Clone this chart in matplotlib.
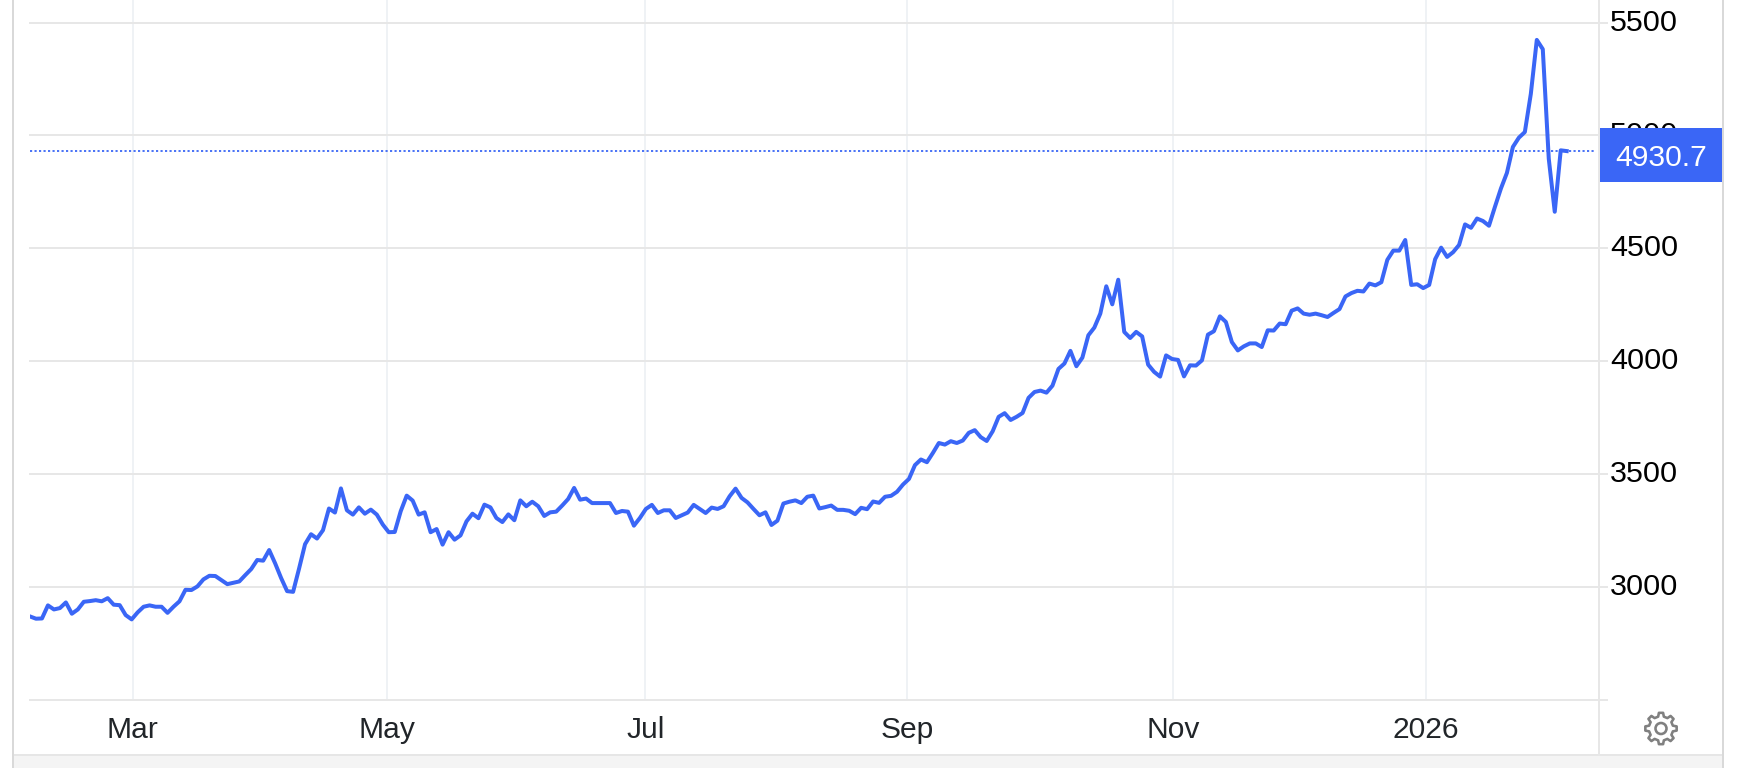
import numpy as np
import matplotlib
matplotlib.use("Agg")
import matplotlib.pyplot as plt
from matplotlib.patches import Rectangle, Polygon, Circle
from matplotlib.transforms import ScaledTranslation

# closing values, one per trading day
prices = [
    2870, 2860, 2861, 2919, 2901, 2907, 2932, 2882, 2901, 2935,
    2938, 2942, 2937, 2951, 2922, 2920, 2876, 2857, 2888, 2913,
    2919, 2913, 2913, 2886, 2913, 2937, 2988, 2987, 3003, 3034,
    3050, 3049, 3031, 3013, 3019, 3025, 3053, 3080, 3120, 3117,
    3164, 3105, 3040, 2982, 2979, 3082, 3190, 3234, 3215, 3252,
    3348, 3330, 3437, 3340, 3321, 3353, 3325, 3343, 3321, 3277,
    3243, 3244, 3336, 3405, 3383, 3321, 3331, 3243, 3257, 3188,
    3243, 3210, 3229, 3291, 3325, 3305, 3365, 3353, 3306, 3288,
    3322, 3296, 3384, 3358, 3378, 3358, 3315, 3331, 3334, 3361,
    3390, 3439, 3387, 3392, 3372, 3372, 3372, 3372, 3328, 3337,
    3334, 3272, 3306, 3346, 3364, 3328, 3340, 3340, 3306, 3318,
    3330, 3364, 3346, 3328, 3352, 3346, 3358, 3402, 3436, 3395,
    3375, 3346, 3318, 3331, 3275, 3294, 3370, 3378, 3384, 3372,
    3400, 3405, 3348, 3354, 3361, 3342, 3342, 3338, 3323, 3351,
    3345, 3379, 3373, 3400, 3404, 3422, 3454, 3479, 3540, 3565,
    3553, 3594, 3638, 3631, 3646, 3638, 3649, 3683, 3695, 3664,
    3647, 3690, 3754, 3770, 3740, 3754, 3771, 3838, 3864, 3870,
    3861, 3892, 3966, 3990, 4046, 3978, 4016, 4115, 4149, 4211,
    4332, 4252, 4361, 4130, 4103, 4130, 4110, 3985, 3953, 3932,
    4026, 4010, 4006, 3933, 3982, 3981, 4004, 4118, 4133, 4199,
    4174, 4085, 4048, 4066, 4079, 4079, 4063, 4137, 4136, 4167,
    4164, 4224, 4234, 4211, 4206, 4211, 4204, 4196, 4214, 4231,
    4287, 4302, 4312, 4309, 4344, 4336, 4350, 4449, 4490, 4490,
    4537, 4338, 4341, 4324, 4338, 4452, 4503, 4462, 4483, 4515,
    4606, 4591, 4632, 4621, 4600, 4684, 4765, 4834, 4949, 4990,
    5015, 5184, 5423, 5382, 4897, 4662, 4934, 4930.7,
]
last_price = 4930.7

month_labels = ["Mar", "May", "Jul", "Sep", "Nov", "2026"]
month_ticks = [17.2, 59.7, 102.9, 146.7, 191.2, 233.5]
price_ticks = [2500, 3000, 3500, 4000, 4500, 5000, 5500]
price_labels = ["", "3000", "3500", "4000", "4500", "5000", "5500"]

W, H = 1740, 768
BLUE = "#3a66f6"
GRID = "#e7e7e7"
px = 72 / 100  # one pixel in points

plt.rcParams["font.family"] = ["Liberation Sans", "DejaVu Sans"]

fig = plt.figure(figsize=(W / 100, H / 100), dpi=100, facecolor="white")
ax = fig.add_axes([30 / W, (H - 700) / H, (1596 - 30) / W, 700 / H])

ax.plot(range(len(prices)), prices, color=BLUE, lw=4 * px, solid_joinstyle="round", zorder=3)
ax.axhline(last_price, color=BLUE, lw=1.8 * px, linestyle=(0, (1.2, 1.3)), zorder=2, clip_on=False)

ax.set_xlim(0, 261.9)
ax.set_ylim(2500, 5599.7)
for s in ax.spines.values():
    s.set_visible(False)

ax.set_xticks(month_ticks, month_labels)
ax.set_yticks(price_ticks, price_labels)
ax.yaxis.tick_right()
ax.grid(axis="y", color=GRID, lw=2 * px, zorder=0)
ax.grid(axis="x", color="#eff2f5", lw=2 * px, zorder=0)
ax.set_axisbelow(True)
for gl in ax.get_ygridlines():
    gl.set_clip_on(False)
ax.tick_params(axis="x", length=0, pad=16 * px, labelsize=30 * px, labelcolor="#212529")
ax.tick_params(axis="y", length=12 * px, width=2 * px, color=GRID, pad=2 * px, labelsize=30.5 * px, labelcolor="black")
# price labels sit a little above their gridlines
up = ScaledTranslation(0, 3 / 100, fig.dpi_scale_trans)
for lab in ax.get_yticklabels():
    lab.set_transform(lab.get_transform() + up)

# page furniture round the chart, in pixel coordinates
ov = fig.add_axes([0, 0, 1, 1], zorder=10, facecolor="none")
ov.set_xlim(0, W)
ov.set_ylim(H, 0)
ov.axis("off")

ov.add_patch(Rectangle((14, 755), 1708, 13, color="#f4f4f4", lw=0))
ov.plot([14, 1722], [755, 755], color="#e6e6e6", lw=2 * px)
ov.plot([13, 13], [0, H], color="#d9d9d9", lw=2 * px)
ov.plot([1723, 1723], [0, H], color="#d9d9d9", lw=2 * px)
ov.plot([1599, 1599], [0, 755], color=GRID, lw=2 * px)

ov.add_patch(Rectangle((1600, 128), 122, 54, color=BLUE, lw=0))
ov.text(1661, 155, f"{last_price:.1f}", color="white", fontsize=30 * px, ha="center", va="center_baseline")

# settings gear
cx, cy = 1661, 728.5
teeth = 8
angles, radii = [], []
for k in range(teeth):
    a = 2 * np.pi * k / teeth
    step = 2 * np.pi / teeth
    angles += [a - 0.30 * step, a - 0.17 * step, a + 0.17 * step, a + 0.30 * step]
    radii += [12.2, 15.8, 15.8, 12.2]
angles = np.array(angles)
radii = np.array(radii)
gear = np.column_stack([cx + radii * np.cos(angles), cy + radii * np.sin(angles)])
ov.add_patch(Polygon(gear, closed=True, fill=False, edgecolor="#808080", lw=2.6 * px, joinstyle="round"))
ov.add_patch(Circle((cx, cy), 5.5, fill=False, edgecolor="#808080", lw=2.6 * px))

fig.savefig("out.png", dpi=100)
plt.close(fig)
